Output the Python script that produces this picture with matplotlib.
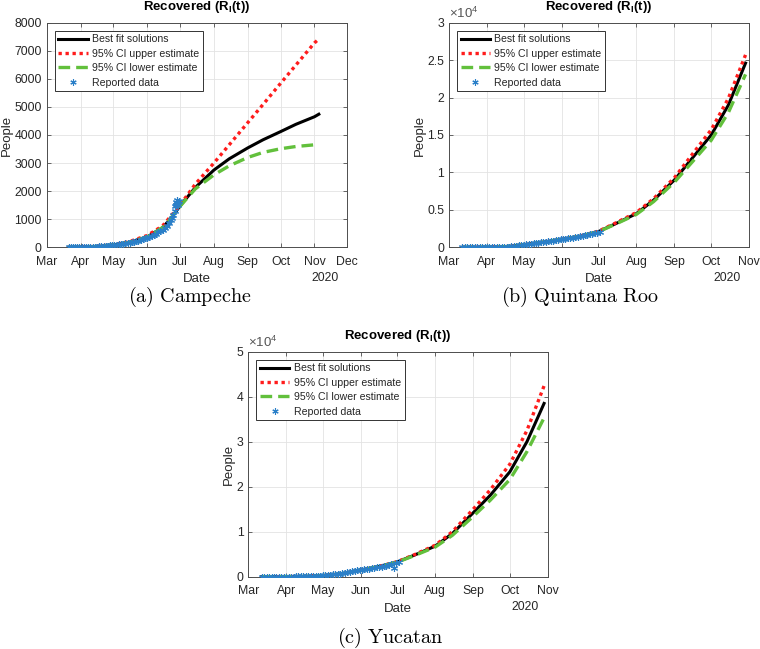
import numpy as np
import matplotlib
matplotlib.use('Agg')
import matplotlib.pyplot as plt
import matplotlib.dates as mdates
from matplotlib.ticker import FuncFormatter

plt.rcParams['font.family'] = ['Liberation Sans', 'DejaVu Sans']
plt.rcParams['mathtext.fontset'] = 'custom'
plt.rcParams['mathtext.rm'] = 'Liberation Sans'
plt.rcParams['mathtext.bf'] = 'Liberation Sans:bold'
plt.rcParams['mathtext.it'] = 'Liberation Sans:italic'

TXT = '#262626'

def d64(lst):
    return np.array(lst, dtype='datetime64[D]')

# ---------------- Campeche ----------------
camp_rep_dates = np.concatenate([
    np.arange(np.datetime64('2020-03-21'), np.datetime64('2020-06-24'), 2),
    d64(['2020-06-24', '2020-06-25', '2020-06-26', '2020-06-26', '2020-06-27', '2020-06-27',
         '2020-06-28', '2020-06-28', '2020-06-29', '2020-06-30'])])
camp_rep = [0, 0, 1, 2, 3, 5, 6, 8, 10, 12, 15, 18, 22, 27, 33, 40, 48, 55, 62, 70,
            78, 86, 95, 104, 114, 125, 137, 150, 165, 180, 198, 218, 240, 265, 290,
            318, 348, 380, 415, 450, 490, 530, 575, 620, 680, 750, 850, 960,
            1050, 1150, 1300, 1480, 1620, 1500, 1560, 1680, 1520, 1640]
camp_fit_dates = d64(['2020-03-21', '2020-04-01', '2020-04-15', '2020-05-01', '2020-05-15',
                      '2020-06-01', '2020-06-15', '2020-06-22', '2020-07-01', '2020-07-15',
                      '2020-08-01', '2020-08-15', '2020-09-01', '2020-09-15', '2020-10-01',
                      '2020-10-15', '2020-11-01', '2020-11-05'])
camp_best = [0, 8, 25, 85, 170, 370, 700, 1000, 1470, 2130, 2750, 3150, 3540, 3830, 4120, 4380, 4650, 4740]
camp_upper = [0, 10, 30, 95, 195, 420, 760, 1080, 1500, 2250, 3000, 3650, 4440, 5090, 5840, 6490, 7280, 7420]
camp_lower = [0, 8, 25, 85, 170, 370, 700, 1000, 1460, 2080, 2580, 2900, 3200, 3380, 3510, 3590, 3650, 3660]

# ---------------- Quintana Roo ----------------
qroo_rep_dates = np.arange(np.datetime64('2020-03-12'), np.datetime64('2020-07-03'), 2)
qroo_rep = [0, 0, 2, 3, 5, 7, 10, 12, 15, 18, 22, 26, 30, 35, 40, 46, 52, 60, 70, 85,
            110, 150, 200, 250, 300, 350, 390, 430, 470, 510, 550, 600, 650, 700, 750,
            800, 850, 900, 950, 1000, 1050, 1100, 1150, 1200, 1250, 1300, 1360, 1420,
            1480, 1540, 1600, 1670, 1740, 1810, 1880, 1950, 2000]
qroo_fit_dates = d64(['2020-03-12', '2020-04-01', '2020-04-15', '2020-05-01', '2020-05-15',
                      '2020-06-01', '2020-06-15', '2020-07-01', '2020-07-15', '2020-08-01',
                      '2020-08-15', '2020-09-01', '2020-09-15', '2020-10-01', '2020-10-15',
                      '2020-10-29'])
qroo_best = [0, 20, 60, 330, 640, 1050, 1450, 2100, 3150, 4500, 6300, 9000, 11800, 15000, 19000, 24600]
qroo_upper = [0, 20, 60, 330, 640, 1050, 1460, 2150, 3250, 4650, 6500, 9300, 12300, 15700, 19900, 25700]
qroo_lower = [0, 20, 60, 330, 640, 1050, 1440, 2080, 3100, 4400, 6100, 8700, 11300, 14300, 18000, 23100]

# ---------------- Yucatan ----------------
yuc_rep_dates = np.arange(np.datetime64('2020-03-12'), np.datetime64('2020-07-03'), 2)
yuc_rep = [0, 0, 1, 2, 3, 5, 7, 9, 12, 15, 20, 25, 30, 38, 45, 55, 65, 80, 100, 120,
           145, 170, 200, 230, 260, 300, 340, 390, 440, 500, 560, 630, 700, 800, 900,
           1000, 1100, 1200, 1300, 1400, 1500, 1580, 1660, 1740, 1820, 1900, 1980,
           2060, 2150, 2250, 2350, 2450, 2600, 2750, 1900, 3100, 3250]
yuc_fit_dates = d64(['2020-03-12', '2020-04-01', '2020-04-15', '2020-05-01', '2020-05-15',
                     '2020-06-01', '2020-06-15', '2020-07-01', '2020-07-15', '2020-08-01',
                     '2020-08-15', '2020-09-01', '2020-09-15', '2020-10-01', '2020-10-15',
                     '2020-10-29'])
yuc_best = [0, 20, 60, 250, 600, 1500, 2200, 3300, 4800, 6800, 9600, 14200, 18100, 23300, 30000, 38500]
yuc_upper = [0, 20, 60, 250, 600, 1500, 2220, 3350, 4900, 7000, 10000, 15000, 19300, 25000, 32500, 42400]
yuc_lower = [0, 20, 60, 250, 600, 1500, 2180, 3250, 4700, 6600, 9200, 13400, 17000, 21600, 27800, 35300]

ASTERISK = (6, 2, 0)


def panel(ax, rep_d, rep, fit_d, best, upper, lower, xmax, ymax, ystep, scaled):
    ax.plot(fit_d, best, color='k', lw=2.2, zorder=3, label='Best fit solutions')
    ax.plot(fit_d, upper, color='#ff1c1c', ls=(0, (1, 1.1)), lw=2.4, zorder=4,
            label='95% CI upper estimate')
    ax.plot(fit_d, lower, color='#62c03c', ls=(0, (3.5, 1.8)), lw=2.4, zorder=5,
            label='95% CI lower estimate')
    ax.plot(rep_d, rep, ls='none', marker=ASTERISK, ms=5, mew=0.8, color='#2a7fc8',
            zorder=6, label='Reported data')

    ax.set_xlim(np.datetime64('2020-03-01'), np.datetime64(xmax))
    ax.set_ylim(0, ymax)
    ax.set_yticks(np.arange(0, ymax + 1, ystep))
    ax.xaxis.set_major_locator(mdates.MonthLocator())
    ax.xaxis.set_major_formatter(mdates.DateFormatter('%b'))
    if scaled:
        ax.yaxis.set_major_formatter(FuncFormatter(lambda v, p: '%g' % (v / 1e4)))
        ax.text(0.0, 1.006, r'$\times10^{4}$', transform=ax.transAxes, ha='left',
                va='bottom', fontsize=9.5, color='#555555')

    ax.grid(True, color='#e3e3e3', lw=0.6)
    ax.set_axisbelow(True)
    for s in ax.spines.values():
        s.set_color('#4d4d4d')
        s.set_linewidth(0.7)
    ax.tick_params(direction='in', top=True, right=True, length=3, width=0.6,
                   labelsize=8.8, labelcolor=TXT, color='#4d4d4d')
    ax.tick_params(axis='x', pad=6)
    ax.tick_params(axis='y', pad=3.5)

    ax.set_title(r'Recovered (R$_\mathbf{I}$(t))', fontsize=9.5, fontweight='bold',
                 color='k', pad=9)
    ax.set_xlabel('Date', fontsize=9.5, color=TXT, labelpad=4)
    ax.set_ylabel('People', fontsize=9.5, color=TXT, labelpad=1)
    ax.text(0.925, -0.135, '2020', transform=ax.transAxes, ha='center', va='center',
            fontsize=8.8, color=TXT)

    leg = ax.legend(loc='upper left', fontsize=7.6, handlelength=2.8, handletextpad=0.4,
                    labelspacing=0.42, borderpad=0.35, borderaxespad=0.75,
                    fancybox=False, framealpha=1, edgecolor='#333333', markerscale=0.9)
    leg.get_frame().set_linewidth(0.7)
    for t in leg.get_texts():
        t.set_color(TXT)


fig = plt.figure(figsize=(7.6, 6.49), dpi=100)

ax1 = fig.add_axes([0.0614, 0.619, 0.3955, 0.346])
panel(ax1, camp_rep_dates, camp_rep, camp_fit_dates, camp_best, camp_upper, camp_lower,
      '2020-12-01', 8000, 1000, False)

ax2 = fig.add_axes([0.5908, 0.619, 0.395, 0.346])
panel(ax2, qroo_rep_dates, qroo_rep, qroo_fit_dates, qroo_best, qroo_upper, qroo_lower,
      '2020-11-01', 30000, 5000, True)

ax3 = fig.add_axes([0.3267, 0.1114, 0.394, 0.3467])
panel(ax3, yuc_rep_dates, yuc_rep, yuc_fit_dates, yuc_best, yuc_upper, yuc_lower,
      '2020-11-01', 50000, 10000, True)

cap = dict(fontsize=14.5, color='k', ha='center', va='baseline', math_fontfamily='cm')
fig.text(190 / 760, 1 - 302 / 649, r'$\mathrm{(a)\ Campeche}$', **cap)
fig.text(580 / 760, 1 - 302 / 649, r'$\mathrm{(b)\ Quintana\ Roo}$', **cap)
fig.text(390 / 760, 1 - 643 / 649, r'$\mathrm{(c)\ Yucatan}$', **cap)

fig.savefig('out.png', dpi=100)
